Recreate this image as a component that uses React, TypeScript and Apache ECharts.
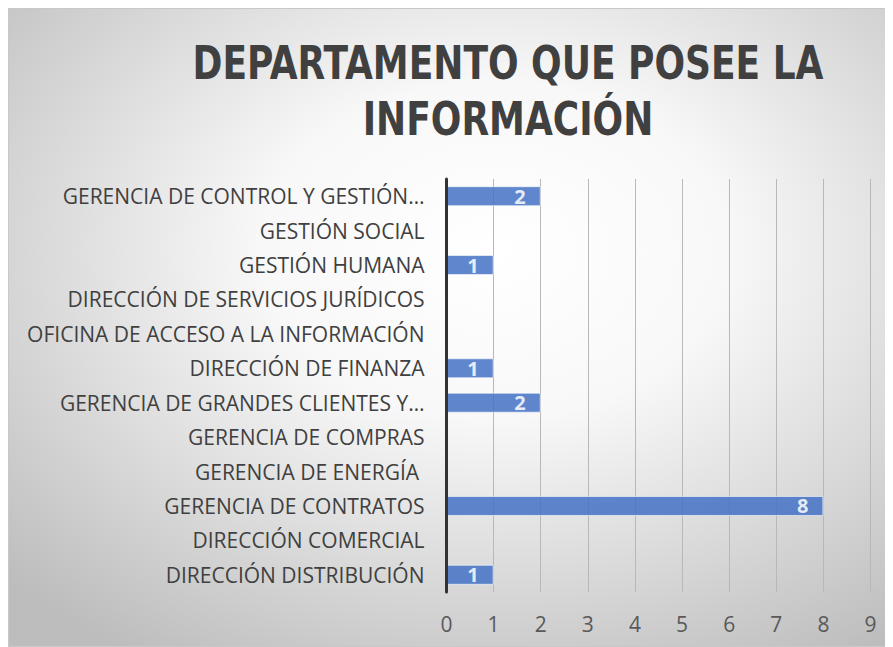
import React, { useEffect, useRef } from "react";
import * as echarts from "echarts";

const categories = [
  "DIRECCIÓN DISTRIBUCIÓN",
  "DIRECCIÓN COMERCIAL",
  "GERENCIA DE CONTRATOS",
  "GERENCIA DE ENERGÍA ",
  "GERENCIA DE COMPRAS",
  "GERENCIA DE GRANDES CLIENTES Y…",
  "DIRECCIÓN DE FINANZA",
  "OFICINA DE ACCESO A LA INFORMACIÓN",
  "DIRECCIÓN DE SERVICIOS JURÍDICOS",
  "GESTIÓN HUMANA",
  "GESTIÓN SOCIAL",
  "GERENCIA DE CONTROL Y GESTIÓN…",
];
const values = [1, 0, 8, 0, 0, 2, 1, 0, 0, 1, 0, 2];
const titleLines = ["DEPARTAMENTO QUE POSEE LA", "INFORMACIÓN"];
const xMin = 0;
const xMax = 9;
const xInterval = 1;

export default function App() {
  const ref = useRef<HTMLDivElement>(null);
  useEffect(() => {
    if (!ref.current) return;
    const chart = echarts.init(ref.current, undefined, { renderer: "svg" });
    const titleFont = "'DejaVu Sans Condensed', sans-serif";
    chart.setOption({
      animation: false,
      backgroundColor: {
        type: "radial",
        x: 0.55,
        y: 0.38,
        r: 0.75,
        colorStops: [
          { offset: 0, color: "#ffffff" },
          { offset: 0.35, color: "#f8f8f8" },
          { offset: 1, color: "#bdbdbd" },
        ],
      },
      graphic: [
        {
          type: "rect",
          shape: { x: 0.5, y: 0.5, width: 884, height: 638 },
          style: { fill: "none", stroke: "#c8c8c8", lineWidth: 1 },
          silent: true,
        },
        ...titleLines.map((t, i) => ({
          type: "text",
          x: 500,
          y: 55 + i * 56,
          scaleX: 0.87,
          style: {
            text: t,
            align: "center",
            verticalAlign: "middle",
            fontFamily: titleFont,
            fontWeight: "bold",
            fontSize: 46,
            fill: "#404040",
          },
        })),
      ],
      grid: { left: 438.5, right: 22.5, top: 171, bottom: 55, containLabel: false },
      xAxis: {
        type: "value",
        min: xMin,
        max: xMax,
        interval: xInterval,
        axisLine: { show: false },
        axisTick: { show: false },
        axisLabel: { color: "#595959", fontSize: 21, fontFamily: "'Open Sans', sans-serif", margin: 21 },
        splitLine: { show: true, lineStyle: { color: "#b8b8b8", width: 1 } },
      },
      yAxis: {
        type: "category",
        data: categories,
        z: 5,
        axisLine: { show: true, lineStyle: { color: "#333333", width: 3 } },
        axisTick: { show: false },
        axisLabel: { color: "#404040", fontSize: 21, fontFamily: "'Open Sans', sans-serif", margin: 22 },
      },
      series: [
        {
          type: "bar",
          data: values,
          barWidth: 20,
          itemStyle: {
            color: "#4472C4",
            opacity: 0.85,
            borderColor: "rgba(255,255,255,0.7)",
            borderWidth: 1,
          },
          label: {
            show: true,
            position: "insideRight",
            distance: 15,
            color: "#ffffff",
            fontWeight: "bold",
            fontSize: 20,
            fontFamily: "'Open Sans', sans-serif",
            formatter: (p: any) => (p.value ? String(p.value) : ""),
          },
        },
      ],
    });
    return () => chart.dispose();
  }, []);
  return <div ref={ref} style={{ width: 885, height: 639 }} />;
}
